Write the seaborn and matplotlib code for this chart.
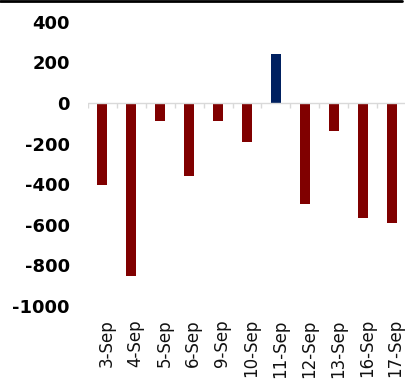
import matplotlib
matplotlib.use("Agg")
import matplotlib.pyplot as plt
import matplotlib.transforms as mtransforms
from matplotlib.lines import Line2D
import seaborn as sns
import pandas as pd

# Daily net flows
dates = ["3-Sep", "4-Sep", "5-Sep", "6-Sep", "9-Sep", "10-Sep",
         "11-Sep", "12-Sep", "13-Sep", "16-Sep", "17-Sep"]
values = [-405, -850, -90, -360, -87, -190, 240, -500, -140, -565, -590]
y_ticks = [-1000, -800, -600, -400, -200, 0, 200, 400]

NEG_COLOR = "#800000"
POS_COLOR = "#002060"

sns.set_theme(style="white")
plt.rcParams["font.family"] = ["DejaVu Sans"]
plt.rcParams["axes.unicode_minus"] = False

df = pd.DataFrame({"date": dates, "value": values})
palette = {d: (POS_COLOR if v > 0 else NEG_COLOR) for d, v in zip(dates, values)}

fig = plt.figure(figsize=(4.06, 3.90), dpi=100)
ax = fig.add_axes([88 / 406, 1 - 306 / 390, 1 - 88 / 406, (306 - 21.7) / 390])

sns.barplot(data=df, x="date", y="value", hue="date", palette=palette,
            order=dates, width=0.345, dodge=False, legend=False, ax=ax,
            saturation=1, linewidth=0, edgecolor="none")

ax.set_xlim(-0.5, len(dates) - 0.5)
ax.set_ylim(-1000, 400)
ax.set_yticks(y_ticks)
ax.set_yticklabels([str(t) for t in y_ticks], fontsize=13, fontweight="bold",
                   color="black")
ax.tick_params(axis="y", length=0, pad=13)
ax.tick_params(axis="x", length=0, pad=9.5)
ax.set_xticks(range(len(dates)))
ax.set_xticklabels(dates, rotation=90, fontsize=12, color="#111111")
offset = mtransforms.ScaledTranslation(4 / 100, 0, fig.dpi_scale_trans)
for lbl in ax.get_xticklabels():
    lbl.set_transform(lbl.get_transform() + offset)
ax.set_xlabel("")
ax.set_ylabel("")
for s in ax.spines.values():
    s.set_visible(False)
ax.grid(False)

# category axis drawn through zero with boundary tick marks
ax.axhline(0, color="#d9d9d9", lw=1.0, zorder=5)
bounds = [i - 0.5 for i in range(len(dates) + 1)]
ax.vlines(bounds, -25, 0, color="#d9d9d9", lw=1.0, zorder=5)

# rule across the top of the figure
fig.add_artist(Line2D([0, 402 / 406], [1 - 1.3 / 390] * 2, color="black",
                      lw=2.0, transform=fig.transFigure))

fig.savefig("out.png", dpi=100, facecolor="white")
